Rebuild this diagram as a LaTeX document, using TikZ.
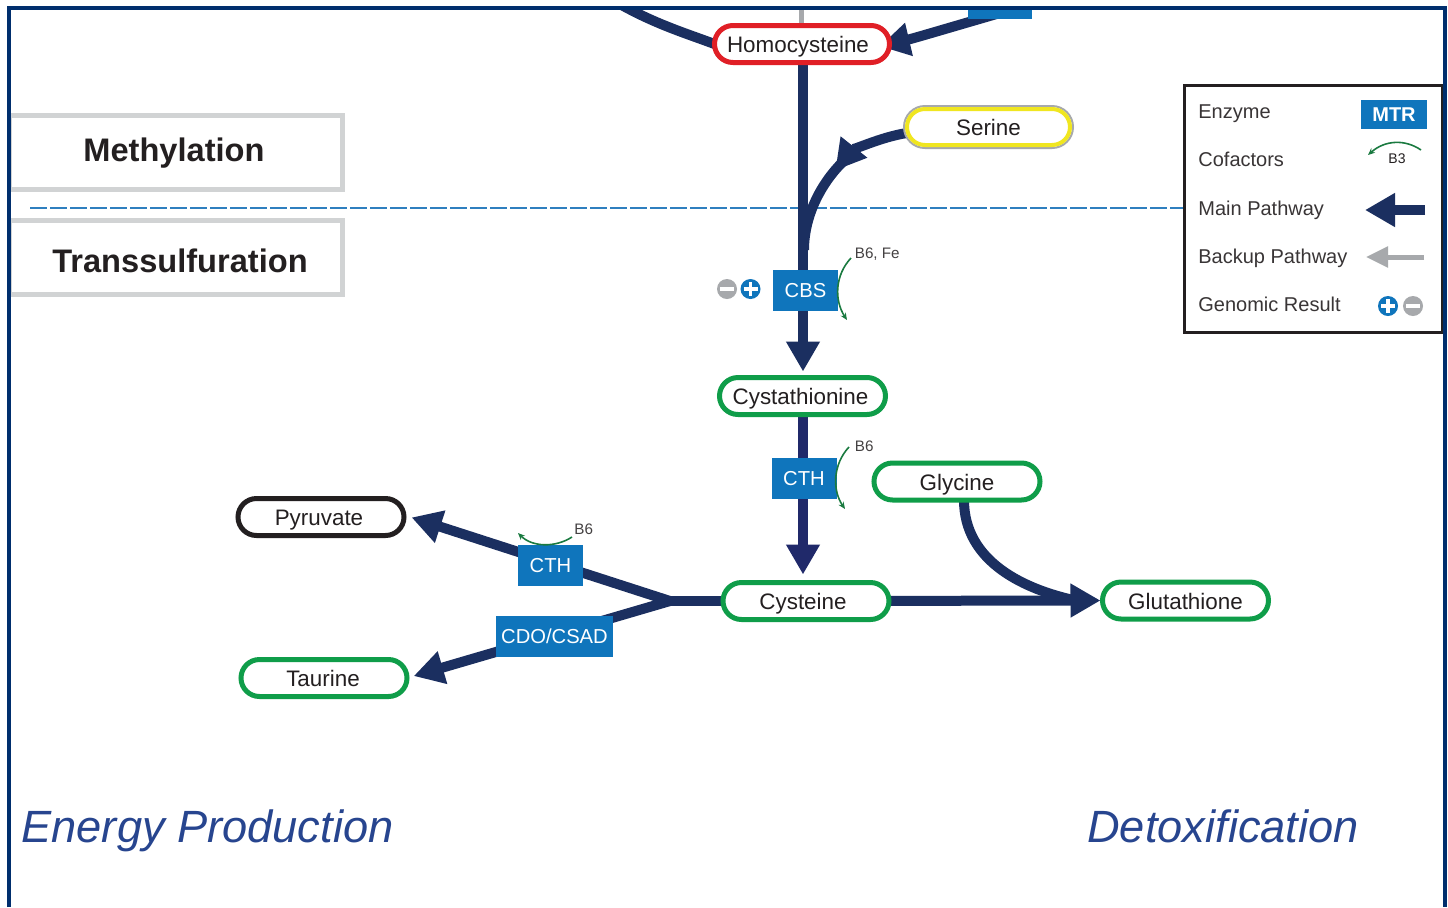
\documentclass[tikz,border=0pt]{standalone}
\usepackage{fontspec}
\setmainfont{Liberation Sans}
\usetikzlibrary{arrows.meta,shapes.misc,backgrounds}
\definecolor{navy}{HTML}{1B2F60}
\definecolor{navyb}{HTML}{20296A}
\definecolor{framenavy}{HTML}{002E6D}
\definecolor{enz}{HTML}{0F75BC}
\definecolor{ink}{HTML}{231F20}
\definecolor{mgreen}{HTML}{0F9D49}
\definecolor{mred}{HTML}{E01F26}
\definecolor{myellow}{HTML}{F0E620}
\definecolor{sgray}{HTML}{A7A9AC}
\definecolor{lightframe}{HTML}{D1D3D4}
\definecolor{cofgreen}{HTML}{1A7A40}
\definecolor{dashblue}{HTML}{2F7FBF}
\definecolor{outcomeblue}{HTML}{27458F}
\tikzset{
  x=0.5pt,y=-0.5pt,
  metab/.style={rounded rectangle,draw=#1,line width=2.5pt,fill=white,minimum width=83pt,minimum height=18.5pt,inner sep=0pt,outer sep=0pt,text=ink,text height=9.6pt,text depth=0.9pt,font=\fontsize{11.2}{13}\selectfont},
  enzyme/.style={rectangle,fill=enz,inner sep=0pt,outer sep=0pt,text=white,text height=7.4pt,text depth=0pt,font=\fontsize{10.1}{12}\selectfont,minimum height=20.5pt},
  route/.style={draw=navy,line width=5pt},
  head/.style={-{Triangle[length=15pt,width=16pt]}},
  cof/.style={draw=cofgreen,line width=0.8pt,-{Stealth[length=3.5pt,width=3pt]}},
  coftext/.style={text=ink!85,font=\fontsize{7.6}{9}\selectfont,inner sep=0pt},
  region/.style={rectangle,draw=lightframe,line width=2.5pt,fill=white,inner sep=0pt,outer sep=0pt,minimum height=37pt},
  regiontext/.style={text=ink,font=\fontsize{16.3}{19}\selectfont\bfseries,inner sep=0pt,text height=11.6pt,text depth=3.4pt},
  outcome/.style={text=outcomeblue,font=\fontsize{22.6}{26}\selectfont\itshape,inner sep=0pt,text height=16pt,text depth=4.7pt},
  legtext/.style={anchor=west,text=ink!90,font=\fontsize{10}{12}\selectfont,inner sep=0pt,text height=7.2pt,text depth=2.1pt},
  dotmark/.style={circle,fill=#1,minimum size=10pt,inner sep=0pt,outer sep=0pt},
  bar/.style={draw=white,line width=1.7pt},
}
\pgfdeclarelayer{under}
\pgfsetlayers{under,main}
\newcommand{\minusbar}[1]{\draw[bar] ([xshift=-3.5pt]#1.center) -- ([xshift=3.5pt]#1.center);}
\newcommand{\plusbar}[1]{\minusbar{#1}\draw[bar] ([yshift=-3.5pt]#1.center) -- ([yshift=3.5pt]#1.center);}
\begin{document}
\begin{tikzpicture}
\useasboundingbox (0,0) rectangle (1448,907);

% metabolites
\node[metab=mred,minimum width=87.5pt] (homo) at (802,44) {\hspace{-4pt}Homocysteine};
\node[rounded rectangle,draw=sgray,line width=1pt,fill=white,minimum width=84.5pt,minimum height=21pt,inner sep=0pt,outer sep=0pt,text height=9.6pt,text depth=0.9pt,font=\fontsize{11.2}{13}\selectfont] (serineouter) at (988.5,127) {\phantom{Serine}};
\node[metab=myellow,minimum width=81.5pt,minimum height=18pt,line width=2pt] (serine) at (988.5,127) {Serine};
\node[metab=mgreen] (cysta) at (802.5,396) {\hspace{-2pt}Cystathionine};
\node[metab=mgreen] (glycine) at (957,481.5) {Glycine};
\node[metab=mgreen] (cysteine) at (806,601) {\hspace{-3pt}Cysteine};
\node[metab=mgreen] (gluta) at (1185.5,600.5) {Glutathione};
\node[metab=ink] (pyruvate) at (321,517) {\hspace{-2pt}Pyruvate};
\node[metab=mgreen] (taurine) at (324,678) {\hspace{-1pt}Taurine};

% enzymes
\node[enzyme,minimum width=32.5pt] (cbs) at (805.5,290) {CBS};
\node[enzyme,minimum width=32.5pt] (cth) at (804,478.5) {CTH};
\node[enzyme,minimum width=32.5pt] (cthb) at (550.5,565.5) {CTH};
\node[enzyme,minimum width=58.5pt] (cdo) at (554.5,636) {CDO/CSAD};
\node[rectangle,fill=enz,minimum width=32pt,minimum height=6pt,inner sep=0pt,outer sep=0pt] (topenz) at (1000,13) {};

% free ends
\coordinate (topleft) at (618,3);
\coordinate (topgray) at (801,7);
\coordinate (junction) at (670,601);
\coordinate (serinetip) at (834,172);
\coordinate (serinemid) at (848,157);
\coordinate (merge) at (804,250);
\coordinate (glymerge) at (1078,601);
\coordinate (dashstart) at (30,208);
\coordinate (dashend) at (1184,208);

\begin{pgfonlayer}{under}
  \fill[white] (0,0) rectangle (1448,907);
  \begin{scope}
  \clip (9,7.5) rectangle (1445,907);
  \draw[draw=dashblue,line width=0.6pt,dash pattern=on 8.5pt off 1.5pt] (dashstart) -- (dashend);
  \draw[draw=sgray,line width=2.5pt] (topgray) -- (homo.north -| topgray);
  \draw[route] (topleft) .. controls (655,24) and (685,33) .. (homo.west);
  \draw[route,head,shorten >=-5pt] (topenz.center) .. controls (955,26) and (915,38) .. (homo.east);
  \draw[route] ([xshift=0.5pt]homo.center) -- ([xshift=-1.25pt]cbs.center);
  \draw[route,head,shorten >=3pt] ([xshift=-1.25pt]cbs.center) -- ([xshift=0.25pt]cysta.north);
  \draw[route,draw=navyb] ([xshift=0.25pt]cysta.center) -- ([xshift=-0.5pt]cth.center);
  \draw[route,draw=navyb,head,shorten >=4pt] ([xshift=-0.5pt]cth.center) -- ([xshift=-1.5pt]cysteine.north);
  \draw[route,head,shorten >=1pt] ([yshift=-3pt]serine.west) .. controls (880,137) and (850,152) .. (serinetip);
  \draw[route] (serinemid) .. controls (822,180) and (804,215) .. (merge);
  \draw[route] ([xshift=3.5pt]glycine.south) .. controls (964,562) and (1025,590) .. (glymerge);
  \draw[route,head,shorten >=1pt] (cysteine.center) -- (gluta.west);
  \draw[route] (cysteine.center) -- (junction);
  \draw[route,head,shorten >=4pt] (junction) -- ([yshift=1pt]pyruvate.east);
  \draw[route,head,shorten >=3.5pt] (junction) -- (taurine.east);
  \end{scope}
\end{pgfonlayer}

% cofactors
\node[coftext,anchor=west] (bfe) at (854.5,254) {B6, Fe};
\node[coftext,anchor=west] (bsix) at (854.5,446) {B6};
\node[coftext,anchor=west] (bsixb) at (574,529.5) {B6};
\coordinate (cbsa) at (851,258);\coordinate (cbsb) at (847,320);
\coordinate (ctha) at (849,447);\coordinate (cthz) at (845,509);
\coordinate (ctba) at (572,537);\coordinate (ctbz) at (518,533);
\draw[cof] (cbsa) .. controls (835,275) and (834,300) .. (cbsb);
\draw[cof] (ctha) .. controls (833,464) and (832,490) .. (cthz);
\draw[cof] (ctba) .. controls (555,548) and (532,547) .. (ctbz);

% genomic marks
\node[dotmark=sgray] (gminus) at (727,289) {};\minusbar{gminus}
\node[dotmark=enz] (gplus) at (750.5,289) {};\plusbar{gplus}

% region labels
\node[region,minimum width=166.5pt] (methbox) at (176,152.5) {};
\node[regiontext] (methtext) at (174,153) {Methylation};
\node[region,minimum width=166.5pt] (transbox) at (176,257.5) {};
\node[regiontext] (transtext) at (180,264) {Transsulfuration};

\node[outcome] (energy) at (207.5,831) {Energy Production};
\node[outcome] (detox) at (1223,831) {Detoxification};

% legend
\node[rectangle,draw=ink,line width=1.5pt,fill=white,minimum width=129pt,minimum height=123.5pt,inner sep=0pt,outer sep=0pt] (legend) at (1313,209) {};
\node[legtext] (lenz) at (1198,113) {Enzyme};
\node[legtext] (lcof) at (1198,161) {Cofactors};
\node[legtext] (lmain) at (1198,210) {Main Pathway};
\node[legtext] (lback) at (1198,258) {Backup Pathway};
\node[legtext] (lgen) at (1198,306) {Genomic Result};
\node[enzyme,minimum width=33pt,minimum height=14.5pt,text height=7.2pt,font=\fontsize{10}{12}\selectfont\bfseries] (mtr) at (1394,114.5) {MTR};
\node[coftext,text=ink,font=\fontsize{7}{9}\selectfont] (bthree) at (1397,158.5) {B3};
\coordinate (lca) at (1421,150);\coordinate (lcb) at (1368,155);
\draw[cof] (lca) .. controls (1405,139) and (1385,140) .. (lcb);
\coordinate (lma) at (1425,210);\coordinate (lmb) at (1365,210);
\draw[draw=navy,line width=5pt,head] (lma) -- (lmb);
\coordinate (lba) at (1424,257);\coordinate (lbb) at (1366,257);
\draw[draw=sgray,line width=2.5pt,-{Triangle[length=11pt,width=10pt]}] (lba) -- (lbb);
\node[dotmark=enz] (lplus) at (1388,306) {};\plusbar{lplus}
\node[dotmark=sgray] (lminus) at (1413,306) {};\minusbar{lminus}

% outer frame
\draw[draw=framenavy,line width=2pt] (9,907) -- (9,7.5) -- (1445,7.5) -- (1445,907);
\end{tikzpicture}
\end{document}
